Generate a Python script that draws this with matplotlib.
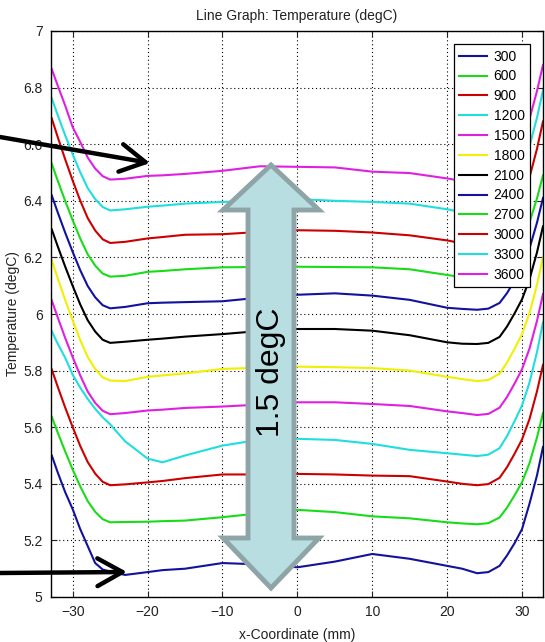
import matplotlib
matplotlib.use('Agg')
import matplotlib.pyplot as plt
from matplotlib.patches import Polygon, FancyArrowPatch

plt.rcParams.update({
    'font.family': 'Liberation Sans',
    'font.size': 10,
})

# x positions (mm) where the curves were read
x_mm = [-32.8, -32, -31, -30, -29, -28, -27, -26, -25, -23, -20, -18, -15, -10, -5,
        0, 5, 10, 15, 20, 22, 24, 25.5, 27, 28, 29, 30, 31, 32, 32.8]

# temperature (degC) per time step
t300 = [5.50, 5.44, 5.37, 5.31, 5.24, 5.18, 5.12, 5.097, 5.09, 5.078, 5.088, 5.095, 5.10, 5.12, 5.115,
        5.105, 5.125, 5.152, 5.135, 5.11, 5.10, 5.084, 5.088, 5.11, 5.147, 5.19, 5.24, 5.33, 5.43, 5.53]
t600 = [5.637, 5.581, 5.514, 5.45, 5.391, 5.339, 5.301, 5.275, 5.264, 5.265, 5.266, 5.268, 5.27, 5.282, 5.296,
        5.308, 5.30, 5.285, 5.278, 5.264, 5.26, 5.257, 5.261, 5.281, 5.316, 5.359, 5.406, 5.473, 5.564, 5.65]
t900 = [5.804, 5.743, 5.669, 5.60, 5.534, 5.477, 5.436, 5.407, 5.395, 5.398, 5.405, 5.41, 5.42, 5.433, 5.433,
        5.435, 5.433, 5.429, 5.427, 5.408, 5.40, 5.395, 5.399, 5.421, 5.459, 5.506, 5.557, 5.629, 5.727, 5.82]
t1200 = [5.939, 5.895, 5.845, 5.785, 5.74, 5.70, 5.665, 5.635, 5.61, 5.55, 5.489, 5.476, 5.50, 5.535, 5.556,
         5.559, 5.555, 5.541, 5.52, 5.508, 5.503, 5.498, 5.503, 5.526, 5.569, 5.621, 5.677, 5.758, 5.866, 5.97]
t1500 = [6.048, 5.988, 5.915, 5.847, 5.783, 5.726, 5.686, 5.658, 5.646, 5.65, 5.659, 5.662, 5.668, 5.673, 5.68,
         5.688, 5.688, 5.682, 5.675, 5.656, 5.65, 5.643, 5.647, 5.669, 5.707, 5.754, 5.805, 5.878, 5.976, 6.07]
t1800 = [6.19, 6.126, 6.049, 5.977, 5.908, 5.848, 5.806, 5.776, 5.765, 5.763, 5.778, 5.783, 5.79, 5.806, 5.81,
         5.814, 5.812, 5.809, 5.80, 5.778, 5.77, 5.763, 5.767, 5.789, 5.829, 5.877, 5.929, 6.003, 6.104, 6.2]
t2100 = [6.299, 6.239, 6.167, 6.099, 6.034, 5.978, 5.938, 5.909, 5.898, 5.902, 5.909, 5.913, 5.92, 5.929, 5.94,
         5.947, 5.947, 5.941, 5.925, 5.90, 5.895, 5.894, 5.898, 5.919, 5.956, 6.002, 6.052, 6.123, 6.218, 6.31]
t2400 = [6.419, 6.359, 6.287, 6.219, 6.155, 6.099, 6.059, 6.031, 6.020, 6.025, 6.038, 6.04, 6.042, 6.045, 6.058,
         6.068, 6.073, 6.065, 6.05, 6.022, 6.018, 6.015, 6.019, 6.039, 6.074, 6.118, 6.165, 6.232, 6.323, 6.41]
t2700 = [6.531, 6.471, 6.399, 6.331, 6.267, 6.211, 6.171, 6.143, 6.132, 6.135, 6.149, 6.152, 6.158, 6.165, 6.166,
         6.167, 6.166, 6.165, 6.158, 6.138, 6.13, 6.122, 6.126, 6.144, 6.177, 6.218, 6.262, 6.324, 6.409, 6.49]
t3000 = [6.691, 6.625, 6.546, 6.471, 6.401, 6.339, 6.295, 6.264, 6.251, 6.255, 6.267, 6.272, 6.28, 6.282, 6.29,
         6.296, 6.294, 6.288, 6.278, 6.26, 6.25, 6.243, 6.247, 6.269, 6.309, 6.357, 6.409, 6.483, 6.584, 6.68]
t3300 = [6.762, 6.703, 6.631, 6.564, 6.501, 6.445, 6.406, 6.378, 6.366, 6.37, 6.379, 6.383, 6.39, 6.396, 6.40,
         6.406, 6.40, 6.396, 6.39, 6.37, 6.36, 6.352, 6.356, 6.378, 6.418, 6.466, 6.518, 6.593, 6.694, 6.79]
t3600 = [6.865, 6.807, 6.736, 6.66, 6.608, 6.553, 6.514, 6.487, 6.475, 6.478, 6.488, 6.49, 6.495, 6.506, 6.522,
         6.52, 6.518, 6.503, 6.498, 6.479, 6.47, 6.46, 6.465, 6.485, 6.523, 6.569, 6.62, 6.69, 6.788, 6.88]

labels = ['300', '600', '900', '1200', '1500', '1800', '2100', '2400', '2700', '3000', '3300', '3600']
series = [t300, t600, t900, t1200, t1500, t1800, t2100, t2400, t2700, t3000, t3300, t3600]

# matlab-ish color cycle b g r c m y k
cycle = ['#12129e', '#18dc18', '#cc0000', '#20dede', '#e020e0', '#f0f000', '#000000']

y_ticks = [5, 5.2, 5.4, 5.6, 5.8, 6, 6.2, 6.4, 6.6, 6.8, 7]
x_ticks = [-30, -20, -10, 0, 10, 20, 30]

W, H = 545, 642
fig = plt.figure(figsize=(W / 100, H / 100), dpi=100)
ax = fig.add_axes([51 / W, (H - 597) / H, 492 / W, 566 / H])

for i, (lab, vals) in enumerate(zip(labels, series)):
    ax.plot(x_mm, vals, color=cycle[i % len(cycle)], lw=1.5, label=lab)

ax.set_xlim(-32.9, 32.8)
ax.set_ylim(5, 7)
ax.set_xticks(x_ticks)
ax.set_yticks(y_ticks)
ax.set_yticklabels([f'{v:g}' for v in y_ticks])
ax.tick_params(direction='in', length=4, width=0.8, top=True, right=True, pad=6,
               labelsize=10, colors='#222222')
ax.grid(True, color='k', linestyle=(0, (1, 2.5)), lw=0.8)
for sp in ax.spines.values():
    sp.set_linewidth(1.0)
    sp.set_color('k')

ax.set_title('Line Graph: Temperature (degC)', fontsize=10, pad=8, color='#222222')
ax.set_xlabel('x-Coordinate (mm)', fontsize=10, color='#222222')
ax.set_ylabel('Temperature (degC)', fontsize=10, color='#222222')
ax.xaxis.set_label_coords(0.5, -0.055)
ax.yaxis.set_label_coords(-0.064, 0.5)

leg = ax.legend(loc='upper right', bbox_to_anchor=(0.974, 0.977), borderaxespad=0,
                fancybox=False, framealpha=1, edgecolor='k', fontsize=10,
                labelspacing=0.42, handlelength=2.0, handletextpad=0.45, borderpad=0.4)
leg.get_frame().set_linewidth(0.9)


def fx(px):
    return px / W


def fy(py):
    return (H - py) / H


# big double-headed block arrow
cx = 271
pts = [(cx, 165), (cx + 48, 210), (cx + 23, 210), (cx + 23, 538), (cx + 48, 538),
       (cx, 588), (cx - 48, 538), (cx - 23, 538), (cx - 23, 210), (cx - 48, 210)]
block = Polygon([(fx(x), fy(y)) for x, y in pts], closed=True, transform=fig.transFigure,
                facecolor='#b8dee2', edgecolor='#8ea4a7', lw=3.5, joinstyle='miter', zorder=10)
fig.add_artist(block)
fig.text(fx(cx), fy(372), '1.5 degC', rotation=90, ha='center', va='center',
         fontsize=23, color='k', zorder=11)

# black pointer arrows from the left edge
for (x0, y0), (x1, y1) in [((0, 137), (150, 163)), ((0, 573), (127, 572))]:
    arr = FancyArrowPatch((fx(x0), fy(y0)), (fx(x1), fy(y1)), transform=fig.transFigure,
                          arrowstyle='->,head_length=0.9,head_width=0.5', mutation_scale=20,
                          lw=3.2, color='k', shrinkA=0, shrinkB=0, zorder=12)
    fig.add_artist(arr)

plt.savefig('out.png', dpi=100)
